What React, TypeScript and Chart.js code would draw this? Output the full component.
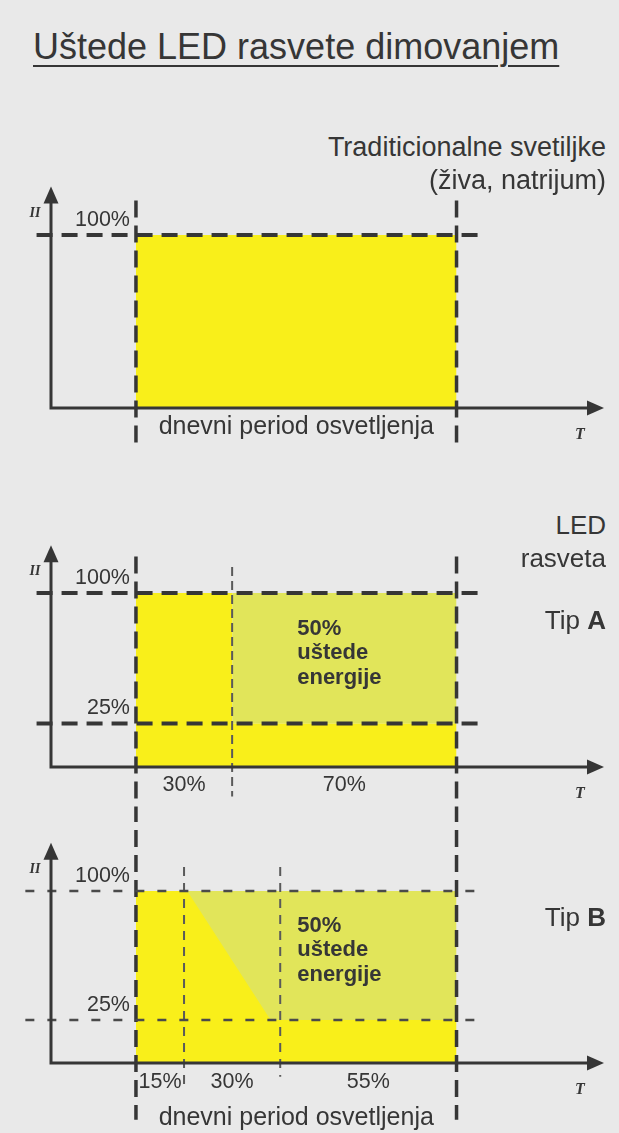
import React, { useEffect, useRef } from "react";
import { Chart, registerables } from "chart.js";

Chart.register(...registerables);

// ---------- data ----------
const TITLE = "Uštede LED rasvete dimovanjem";
const LEVELS = [100, 25]; // % of power
const SPLIT_A = [30, 70]; // % of daily period (Tip A)
const SPLIT_B = [15, 30, 55]; // % of daily period (Tip B)
const TRAD_X = [0, 100];
const TRAD_Y = [100, 100];
const TIP_A_X = [0, 30, 30, 100];
const TIP_A_Y = [100, 100, 25, 25];
const TIP_B_X = [0, 16, 42, 100];
const TIP_B_Y = [100, 100, 25, 25];
const SAVING_LABEL = ["50%", "uštede", "energije"];
const PERIOD_LABEL = "dnevni period osvetljenja";
const Y_AXIS_LABEL = "II";
const X_AXIS_LABEL = "T";

// ---------- style ----------
const BRIGHT = "#f9ef1a";
const PALE = "#e1e55a";
const INK = "#363636";
const FONT = "'Liberation Sans', Arial, sans-serif";

const cumul = (a: number[]) => {
  const out = [0];
  a.forEach((v) => out.push(out[out.length - 1] + v));
  return out;
};
const pts = (xs: number[], ys: number[]) => xs.map((x, i) => ({ x, y: ys[i] }));

const lineDs = (data: any[], dash: number[], width: number, color = INK) => ({
  data,
  borderColor: color,
  borderWidth: width,
  borderDash: dash,
  pointRadius: 0,
  fill: false,
  tension: 0,
  clip: false,
  order: 1,
});
const fillDs = (data: any[], color: string, fill: any, order: number) => ({
  data,
  borderColor: "transparent",
  borderWidth: 1,
  backgroundColor: color,
  pointRadius: 0,
  fill,
  tension: 0,
  clip: false,
  order,
});

const decor = {
  id: "decor",
  afterDatasetsDraw(chart: any, _a: any, o: any) {
    const { ctx, chartArea } = chart;
    const xs = chart.scales.x;
    const ys = chart.scales.y;
    const X = (v: number) => xs.getPixelForValue(v);
    const Y = (v: number) => ys.getPixelForValue(v);
    const ax = chartArea.left;
    const ay = Y(0);
    ctx.save();
    // axes
    ctx.strokeStyle = INK;
    ctx.fillStyle = INK;
    ctx.lineWidth = 3;
    ctx.setLineDash([]);
    const tipY = Y(o.yTop);
    const tipX = chartArea.right;
    ctx.beginPath();
    ctx.moveTo(ax, ay + 1.5);
    ctx.lineTo(ax, tipY + 12);
    ctx.moveTo(ax - 1.5, ay);
    ctx.lineTo(tipX - 12, ay);
    ctx.stroke();
    ctx.beginPath();
    ctx.moveTo(ax, tipY);
    ctx.lineTo(ax - 7.5, tipY + 17);
    ctx.lineTo(ax + 7.5, tipY + 17);
    ctx.closePath();
    ctx.fill();
    ctx.beginPath();
    ctx.moveTo(tipX, ay);
    ctx.lineTo(tipX - 17, ay - 7.5);
    ctx.lineTo(tipX - 17, ay + 7.5);
    ctx.closePath();
    ctx.fill();

    // axis letters
    ctx.font = "italic bold 14px 'Liberation Serif', serif";
    ctx.textAlign = "center";
    ctx.textBaseline = "middle";
    ctx.fillText(Y_AXIS_LABEL, ax - 16, Y(100) - 22);
    ctx.font = "italic bold 16px 'Liberation Serif', serif";
    ctx.fillText(X_AXIS_LABEL, X(138.5), ay + 27);

    // level labels
    ctx.font = `21.5px ${FONT}`;
    ctx.textAlign = "right";
    o.levels.forEach((l: number) => {
      ctx.fillText(`${l}%`, X(0) - 6, Y(l) - 15);
    });

    // split labels
    if (o.splits) {
      const c = cumul(o.splits);
      ctx.textAlign = "center";
      o.splits.forEach((s: number, i: number) => {
        ctx.fillText(`${s}%`, X((c[i] + c[i + 1]) / 2), ay + o.splitOffset);
      });
    }

    // period label
    if (o.periodOffset != null) {
      ctx.font = `25px ${FONT}`;
      ctx.textAlign = "center";
      ctx.fillText(PERIOD_LABEL, X(50), ay + o.periodOffset);
    }

    // saving annotation
    if (o.saving) {
      ctx.font = `bold 22px ${FONT}`;
      ctx.textAlign = "left";
      const midY = Y(65.5);
      SAVING_LABEL.forEach((t, i) => {
        ctx.fillText(t, X(50.3), midY + (i - 1) * 24.5);
      });
    }
    ctx.restore();
  },
};

type Spec = {
  top: number;
  height: number;
  padTop: number;
  padBottom: number;
  datasets: any[];
  plugin: any;
};

const AX_MIN = -26.5;
const AX_MAX = 146;

const cumA = cumul(SPLIT_A);
const cumB = cumul(SPLIT_B);

const PANELS: Spec[] = [
  {
    top: 185,
    height: 270,
    padTop: 50,
    padBottom: 47,
    datasets: [
      fillDs(pts(TRAD_X, TRAD_Y), BRIGHT, "origin", 9),
      lineDs([{ x: -31, y: LEVELS[0] }, { x: 108, y: LEVELS[0] }], [16, 9], 4),
      lineDs([{ x: 0, y: 120 }, { x: 0, y: -20 }], [17, 8], 3.5),
      lineDs([{ x: 100, y: 120 }, { x: 100, y: -20 }], [17, 8], 3.5),
    ],
    plugin: { yTop: 128, levels: [LEVELS[0]], splits: null, periodOffset: 19, saving: false },
  },
  {
    top: 540,
    height: 280,
    padTop: 53,
    padBottom: 53,
    datasets: [
      fillDs(pts([cumA[1], 100], [LEVELS[0], LEVELS[0]]), PALE, { value: LEVELS[1] }, 10),
      fillDs(pts(TIP_A_X, TIP_A_Y), BRIGHT, "origin", 9),
      lineDs([{ x: -31, y: LEVELS[0] }, { x: 108, y: LEVELS[0] }], [16, 9], 4),
      lineDs([{ x: -31, y: LEVELS[1] }, { x: 108, y: LEVELS[1] }], [16, 9], 4),
      lineDs([{ x: 0, y: 121 }, { x: 0, y: -40 }], [17, 8], 3.5),
      lineDs([{ x: 100, y: 121 }, { x: 100, y: -40 }], [17, 8], 3.5),
      lineDs([{ x: cumA[1], y: 115 }, { x: cumA[1], y: -17 }], [9, 5], 2, "#5a5a5a"),
    ],
    plugin: { yTop: 127.5, levels: LEVELS, splits: SPLIT_A, splitOffset: 18, periodOffset: null, saving: true },
  },
  {
    top: 820,
    height: 313,
    padTop: 71,
    padBottom: 70,
    datasets: [
      fillDs(pts([TIP_B_X[1], 100], [LEVELS[0], LEVELS[0]]), PALE, { value: LEVELS[1] }, 10),
      fillDs(pts(TIP_B_X, TIP_B_Y), BRIGHT, "origin", 9),
      lineDs([{ x: -34.5, y: LEVELS[0] }, { x: 107.5, y: LEVELS[0] }], [9, 13], 2.5, "#4a4a4a"),
      lineDs([{ x: -34.5, y: LEVELS[1] }, { x: 107.5, y: LEVELS[1] }], [9, 13], 2.5, "#4a4a4a"),
      lineDs([{ x: 0, y: 150 }, { x: 0, y: -33 }], [17, 8], 3.5),
      lineDs([{ x: 100, y: 150 }, { x: 100, y: -33 }], [17, 8], 3.5),
      lineDs([{ x: cumB[1], y: 114 }, { x: cumB[1], y: -16 }], [9, 7], 2, "#5a5a5a"),
      lineDs([{ x: cumB[2], y: 114 }, { x: cumB[2], y: -8 }], [9, 7], 2, "#5a5a5a"),
    ],
    plugin: { yTop: 128, levels: LEVELS, splits: SPLIT_B, splitOffset: 19, periodOffset: 55, saving: true },
  },
];

function Panel({ spec }: { spec: Spec }) {
  const ref = useRef<HTMLCanvasElement | null>(null);
  useEffect(() => {
    if (!ref.current) return;
    const chart = new Chart(ref.current, {
      type: "line",
      data: { datasets: spec.datasets },
      options: {
        animation: false,
        responsive: false,
        devicePixelRatio: 1,
        layout: { padding: { left: 51, right: 15, top: spec.padTop, bottom: spec.padBottom } },
        scales: {
          x: { type: "linear", min: AX_MIN, max: AX_MAX, display: false },
          y: { type: "linear", min: 0, max: 100, display: false },
        },
        plugins: {
          legend: { display: false },
          tooltip: { enabled: false },
          decor: spec.plugin,
        } as any,
        events: [],
      },
      plugins: [decor],
    } as any);
    return () => chart.destroy();
  }, [spec]);
  return (
    <canvas
      ref={ref}
      width={619}
      height={spec.height}
      style={{ position: "absolute", left: 0, top: spec.top, width: 619, height: spec.height }}
    />
  );
}

const txt = (top: number, size: number): React.CSSProperties => ({
  position: "absolute",
  right: 13,
  top,
  fontSize: size,
  lineHeight: `${size}px`,
  textAlign: "right",
  whiteSpace: "nowrap",
  color: INK,
});

export default function App() {
  return (
    <div
      style={{
        position: "absolute",
        left: 0,
        top: 0,
        width: 619,
        height: 1133,
        overflow: "hidden",
        background: "#e9e9e9",
        fontFamily: FONT,
        color: INK,
      }}
    >
      {PANELS.map((p, i) => (
        <Panel key={i} spec={p} />
      ))}
      <div
        style={{
          position: "absolute",
          left: 33,
          top: 29,
          fontSize: 36,
          lineHeight: "36px",
          whiteSpace: "nowrap",
          textDecoration: "underline",
          textDecorationThickness: "2px",
          textUnderlineOffset: "6px",
        }}
      >
        {TITLE}
      </div>
      <div style={txt(134, 27)}>Traditicionalne svetiljke</div>
      <div style={txt(167, 27)}>(živa, natrijum)</div>
      <div style={txt(512, 26)}>LED</div>
      <div style={txt(545, 26)}>rasveta</div>
      <div style={txt(607, 26)}>
        Tip <b>A</b>
      </div>
      <div style={txt(904, 26)}>
        Tip <b>B</b>
      </div>
    </div>
  );
}
